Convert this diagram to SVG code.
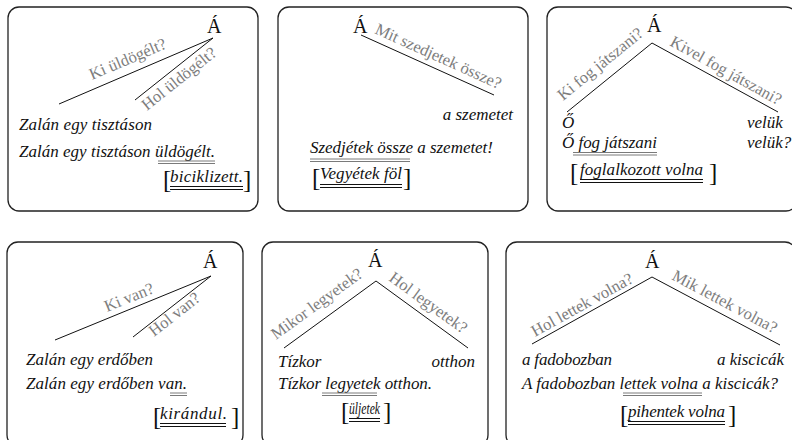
<svg xmlns="http://www.w3.org/2000/svg" width="792" height="440" viewBox="0 0 792 440">
  <style>
    .box { fill: #ffffff; stroke: #222222; stroke-width: 1.3; }
    .edge { fill: none; stroke: #111111; stroke-width: 1; }
    .root { font-family: "Liberation Serif", "Times New Roman", serif; font-size: 20px; fill: #111111; }
    .q { font-family: "Liberation Serif", "Times New Roman", serif; font-size: 16.5px; fill: #7d7d7d; }
    .s { font-family: "Liberation Serif", "Times New Roman", serif; font-size: 17px; font-style: italic; fill: #111111; }
    .br { font-family: "Liberation Serif", "Times New Roman", serif; font-size: 25px; fill: #111111; }
    .pred { stroke: #7a7a7a; stroke-width: 1; }
    .alt { stroke: #111111; stroke-width: 1; }
  </style>

  <!-- panel frames -->
  <g id="frames">
    <rect class="box" x="8" y="7" width="250" height="204" rx="11"/>
    <rect class="box" x="278" y="7" width="250" height="204" rx="11"/>
    <rect class="box" x="547" y="7" width="250" height="204" rx="11"/>
    <rect class="box" x="7" y="242" width="236" height="204" rx="11"/>
    <rect class="box" x="262" y="242" width="226" height="204" rx="11"/>
    <rect class="box" x="506" y="242" width="290" height="204" rx="11"/>
  </g>

  <!-- tree branches -->
  <g id="connectors">
    <line class="edge" x1="59" y1="104" x2="213" y2="38"/>
    <line class="edge" x1="135" y1="100" x2="213" y2="38"/>
    <line class="edge" x1="361" y1="35" x2="494" y2="95"/>
    <polyline class="edge" points="567,112 652,43 778,112"/>
    <line class="edge" x1="55" y1="340" x2="211" y2="276"/>
    <line class="edge" x1="133" y1="337" x2="211" y2="276"/>
    <polyline class="edge" points="284,348 376,281 468,348"/>
    <polyline class="edge" points="532,344 652,277 780,345"/>
  </g>

  <!-- panel 1 -->
  <g id="panel-uldogelt">
    <text class="root" x="207" y="33">Á</text>
    <text class="q" transform="translate(92,80) rotate(-23)">Ki üldögélt?</text>
    <text class="q" transform="translate(147,111) rotate(-38.5)">Hol üldögélt?</text>
    <text class="s" x="19" y="130" textLength="133">Zalán egy tisztáson</text>
    <text class="s" x="19" y="157" textLength="196">Zalán egy tisztáson üldögélt.</text>
    <line class="pred" x1="158" y1="161" x2="215" y2="161"/>
    <line class="pred" x1="158" y1="163.5" x2="215" y2="163.5"/>
    <text class="br" x="163" y="188">[</text>
    <text class="s" x="170" y="182" textLength="73">biciklizett.</text>
    <text class="br" x="243" y="188">]</text>
    <line class="alt" x1="170" y1="186.5" x2="243" y2="186.5"/>
    <line class="alt" x1="170" y1="189.5" x2="243" y2="189.5"/>
  </g>

  <!-- panel 2 -->
  <g id="panel-szedjetek">
    <text class="root" x="353" y="33">Á</text>
    <text class="q" transform="translate(374,33) rotate(24.3)">Mit szedjetek össze?</text>
    <text class="s" x="513" y="120" text-anchor="end">a szemetet</text>
    <text class="s" x="310" y="153" textLength="183">Szedjétek össze a szemetet!</text>
    <line class="pred" x1="310" y1="159" x2="410" y2="159"/>
    <line class="pred" x1="310" y1="161.5" x2="410" y2="161.5"/>
    <text class="br" x="312" y="186">[</text>
    <text class="s" x="320" y="179" textLength="82">Vegyétek föl</text>
    <text class="br" x="403" y="186">]</text>
    <line class="alt" x1="320" y1="184.5" x2="402" y2="184.5"/>
    <line class="alt" x1="320" y1="187.5" x2="402" y2="187.5"/>
  </g>

  <!-- panel 3 -->
  <g id="panel-jatszani">
    <text class="root" x="647" y="32">Á</text>
    <text class="q" transform="translate(563,101) rotate(-39)">Ki fog játszani?</text>
    <text class="q" transform="translate(669,45) rotate(29)">Kivel fog játszani?</text>
    <text class="s" x="562" y="128">Ő</text>
    <text class="s" x="747" y="128">velük</text>
    <text class="s" x="562" y="148" textLength="95">Ő fog játszani</text>
    <text class="s" x="747" y="148">velük?</text>
    <line class="pred" x1="573" y1="152.5" x2="657" y2="152.5"/>
    <line class="pred" x1="573" y1="155" x2="657" y2="155"/>
    <text class="br" x="570" y="181">[</text>
    <text class="s" x="580" y="175" textLength="123">foglalkozott volna</text>
    <text class="br" x="709" y="181">]</text>
    <line class="alt" x1="580" y1="179.5" x2="703" y2="179.5"/>
    <line class="alt" x1="580" y1="182.5" x2="703" y2="182.5"/>
  </g>

  <!-- panel 4 -->
  <g id="panel-van">
    <text class="root" x="203" y="268">Á</text>
    <text class="q" transform="translate(107,312) rotate(-22)">Ki van?</text>
    <text class="q" transform="translate(154,337) rotate(-38)">Hol van?</text>
    <text class="s" x="26" y="365" textLength="127">Zalán egy erdőben</text>
    <text class="s" x="26" y="389" textLength="161">Zalán egy erdőben van.</text>
    <line class="pred" x1="170" y1="393" x2="187" y2="393"/>
    <line class="pred" x1="170" y1="395.5" x2="187" y2="395.5"/>
    <text class="br" x="153" y="425">[</text>
    <text class="s" x="160" y="419" textLength="67">kirándul.</text>
    <text class="br" x="231" y="425">]</text>
    <line class="alt" x1="160" y1="423.5" x2="226" y2="423.5"/>
    <line class="alt" x1="160" y1="426.5" x2="226" y2="426.5"/>
  </g>

  <!-- panel 5 -->
  <g id="panel-legyetek">
    <text class="root" x="368" y="267">Á</text>
    <text class="q" transform="translate(276,340) rotate(-36)">Mikor legyetek?</text>
    <text class="q" transform="translate(388,280) rotate(36)">Hol legyetek?</text>
    <text class="s" x="278" y="367">Tízkor</text>
    <text class="s" x="475" y="367" text-anchor="end">otthon</text>
    <text class="s" x="278" y="389" textLength="154">Tízkor legyetek otthon.</text>
    <line class="pred" x1="322" y1="393" x2="377" y2="393"/>
    <line class="pred" x1="322" y1="395.5" x2="377" y2="395.5"/>
    <text class="br" x="341" y="420">[</text>
    <text class="s" x="349" y="414" textLength="31" lengthAdjust="spacingAndGlyphs">üljetek</text>
    <text class="br" x="383" y="420">]</text>
    <line class="alt" x1="349" y1="418.5" x2="380" y2="418.5"/>
    <line class="alt" x1="349" y1="421.5" x2="380" y2="421.5"/>
  </g>

  <!-- panel 6 -->
  <g id="panel-lettek">
    <text class="root" x="645" y="268">Á</text>
    <text class="q" transform="translate(535,337) rotate(-29)">Hol lettek volna?</text>
    <text class="q" transform="translate(671,279) rotate(28)">Mik lettek volna?</text>
    <text class="s" x="522" y="365" textLength="90">a fadobozban</text>
    <text class="s" x="717" y="365" textLength="67">a  kiscicák</text>
    <text class="s" x="522" y="389" textLength="256">A fadobozban lettek volna a kiscicák?</text>
    <line class="pred" x1="623" y1="393" x2="702" y2="393"/>
    <line class="pred" x1="623" y1="395.5" x2="702" y2="395.5"/>
    <text class="br" x="620" y="423">[</text>
    <text class="s" x="628" y="417" textLength="97">pihentek volna</text>
    <text class="br" x="728" y="423">]</text>
    <line class="alt" x1="628" y1="421.5" x2="725" y2="421.5"/>
    <line class="alt" x1="628" y1="424.5" x2="725" y2="424.5"/>
  </g>
</svg>
